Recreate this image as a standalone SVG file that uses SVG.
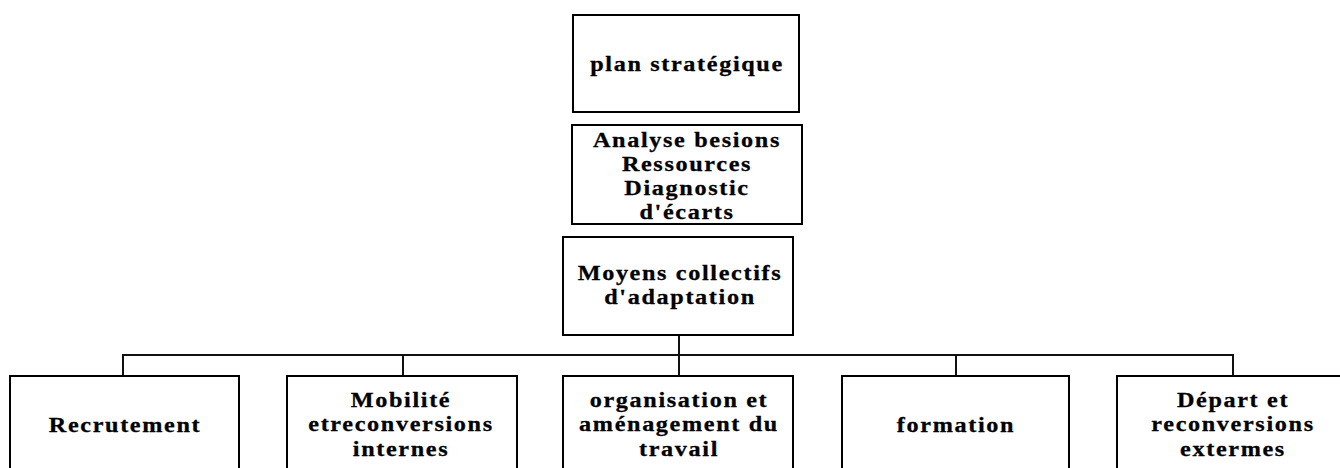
<svg xmlns="http://www.w3.org/2000/svg" width="1340" height="468" viewBox="0 0 1340 468">
  <style>
    .box { fill: #ffffff; stroke: #000000; stroke-width: 2; }
    .lbl { font-family: "Liberation Serif", "Times New Roman", serif; font-weight: bold; font-size: 22px; letter-spacing: 1.5px; fill: #000000; stroke: #000000; stroke-width: 0.3; text-anchor: middle; }
    .link { fill: none; stroke: #111111; stroke-width: 2; }
  </style>
  <rect width="1340" height="468" fill="#ffffff"/>

  <!-- tree connectors -->
  <g id="connectors">
    <path class="link" d="M679 335 V376"/>
    <path class="link" d="M123 376 V355 H1233 V376"/>
    <path class="link" d="M403 355 V376"/>
    <path class="link" d="M956 355 V376"/>
  </g>

  <g id="plan">
    <rect class="box" x="573" y="15" width="226" height="97"/>
    <g transform="translate(687 0) scale(1.1 1)">
      <text class="lbl" x="0" y="71">plan stratégique</text>
    </g>
  </g>

  <g id="analyse">
    <rect class="box" x="572" y="125" width="230" height="99"/>
    <g transform="translate(687 0) scale(1.1 1)">
      <text class="lbl" x="0" y="147">Analyse besions</text>
      <text class="lbl" x="0" y="171">Ressources</text>
      <text class="lbl" x="0" y="195">Diagnostic</text>
      <text class="lbl" x="0" y="219">d'écarts</text>
    </g>
  </g>

  <g id="moyens">
    <rect class="box" x="563" y="237" width="230" height="98"/>
    <g transform="translate(680 0) scale(1.1 1)">
      <text class="lbl" x="0" y="280">Moyens collectifs</text>
      <text class="lbl" x="0" y="304">d'adaptation</text>
    </g>
  </g>

  <g id="recrutement">
    <rect class="box" x="10" y="376" width="229" height="110"/>
    <g transform="translate(125 0) scale(1.1 1)">
      <text class="lbl" x="0" y="432">Recrutement</text>
    </g>
  </g>

  <g id="mobilite">
    <rect class="box" x="287" y="376" width="230" height="110"/>
    <g transform="translate(401 0) scale(1.1 1)">
      <text class="lbl" x="0" y="407">Mobilité</text>
      <text class="lbl" x="0" y="431.5">etreconversions</text>
      <text class="lbl" x="0" y="456">internes</text>
    </g>
  </g>

  <g id="organisation">
    <rect class="box" x="563" y="376" width="230" height="110"/>
    <g transform="translate(679 0) scale(1.1 1)">
      <text class="lbl" x="0" y="407">organisation et</text>
      <text class="lbl" x="0" y="431.5">aménagement du</text>
      <text class="lbl" x="0" y="456">travail</text>
    </g>
  </g>

  <g id="formation">
    <rect class="box" x="842" y="376" width="227" height="110"/>
    <g transform="translate(956 0) scale(1.1 1)">
      <text class="lbl" x="0" y="432">formation</text>
    </g>
  </g>

  <g id="depart">
    <rect class="box" x="1117" y="376" width="232" height="110"/>
    <g transform="translate(1233 0) scale(1.1 1)">
      <text class="lbl" x="0" y="407">Départ et</text>
      <text class="lbl" x="0" y="431.5">reconversions</text>
      <text class="lbl" x="0" y="456">extermes</text>
    </g>
  </g>
</svg>
